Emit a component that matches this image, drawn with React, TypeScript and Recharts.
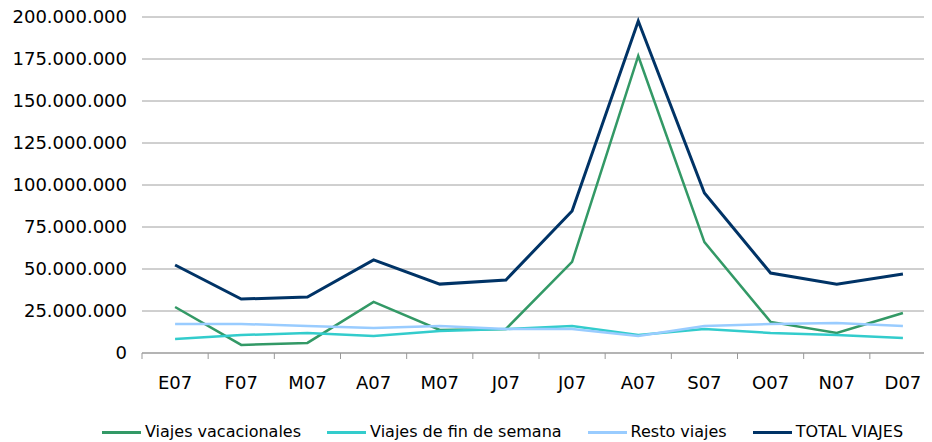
import { LineChart, Line, XAxis, YAxis, CartesianGrid, Legend } from 'recharts';

const months = ['E07', 'F07', 'M07', 'A07', 'M07', 'J07', 'J07', 'A07', 'S07', 'O07', 'N07', 'D07'];
const vacacionales = [27.4, 4.8, 6.0, 30.4, 13.7, 14.3, 54.2, 176.8, 66.0, 18.5, 11.9, 23.8];
const finDeSemana = [8.3, 10.7, 11.9, 10.1, 13.1, 14.3, 16.0, 10.7, 14.3, 11.9, 10.7, 8.9];
const resto = [17.3, 17.3, 16.0, 14.9, 16.0, 14.3, 14.3, 10.1, 16.0, 17.3, 17.9, 16.0];
const total = [52.4, 32.1, 33.3, 55.4, 41.0, 43.5, 84.5, 197.6, 95.2, 47.6, 41.0, 47.0];
const yTicks = [0, 25, 50, 75, 100, 125, 150, 175, 200].map((v) => v * 1000000);

const series = [
  { key: 'vac', name: 'Viajes vacacionales', color: '#339966', width: 2.5, values: vacacionales },
  { key: 'fin', name: 'Viajes de fin de semana', color: '#33cccc', width: 2.5, values: finDeSemana },
  { key: 'resto', name: 'Resto viajes', color: '#99ccff', width: 2.5, values: resto },
  { key: 'total', name: 'TOTAL VIAJES', color: '#003366', width: 3, values: total },
];

const data = months.map((m, i) => {
  const row: Record<string, string | number> = { id: i, month: m };
  series.forEach((s) => {
    row[s.key] = Math.round(s.values[i] * 1000000);
  });
  return row;
});

const FONT = 'Verdana, "DejaVu Sans", sans-serif';
const CHART_W = 950;
const AXIS_W = 134;
const MARGIN_R = 22;
const BAND = (CHART_W - AXIS_W - MARGIN_R) / months.length;

const fmt = (v: number) => String(Math.round(v)).replace(/\B(?=(\d{3})+(?!\d))/g, '.');

function MonthTick(props: any) {
  const { x, y, payload } = props;
  return (
    <g>
      <line x1={x - BAND / 2} x2={x - BAND / 2} y1={y} y2={y + 6} stroke="#999" />
      <text x={x} y={y + 36} textAnchor="middle" fontSize={18} fill="#000" fontFamily={FONT}>
        {months[payload.value]}
      </text>
    </g>
  );
}

function LegendBox() {
  return (
    <div
      style={{
        height: 34,
        paddingTop: 14,
        boxSizing: 'border-box',
        paddingLeft: 94,
        display: 'flex',
        alignItems: 'center',
        fontFamily: FONT,
        fontSize: 16,
        lineHeight: '18px',
        color: '#000',
      }}
    >
      {series.map((s) => (
        <div key={s.key} style={{ display: 'flex', alignItems: 'center', marginRight: 26 }}>
          <div style={{ width: 39, height: 3, background: s.color, marginRight: 4 }} />
          <span style={{ whiteSpace: 'nowrap' }}>{s.name}</span>
        </div>
      ))}
    </div>
  );
}

export default function App() {
  return (
    <div style={{ width: 924, height: 442, marginTop: -8, overflow: 'hidden', background: '#fff' }}>
      <LineChart width={CHART_W} height={442} data={data} margin={{ top: 17, right: MARGIN_R, bottom: 0, left: 0 }}>
        <CartesianGrid horizontal vertical={false} stroke="#a0a0a0" />
        <XAxis
          dataKey="id"
          type="category"
          padding={{ left: BAND / 2, right: BAND / 2 }}
          height={55}
          stroke="#999"
          tickLine={false}
          tickSize={0}
          tickMargin={0}
          interval={0}
          tick={<MonthTick />}
        />
        <YAxis
          width={AXIS_W}
          domain={[0, 200000000]}
          ticks={yTicks}
          interval={0}
          axisLine={false}
          tickLine={false}
          tickMargin={9}
          tickFormatter={fmt}
          tick={{ fontSize: 18, fill: '#000', fontFamily: FONT }}
        />
        <Legend verticalAlign="bottom" content={<LegendBox />} wrapperStyle={{ left: 0, width: CHART_W }} />
        {series.map((s) => (
          <Line
            key={s.key}
            dataKey={s.key}
            name={s.name}
            stroke={s.color}
            strokeWidth={s.width}
            dot={false}
            activeDot={false}
            type="linear"
            isAnimationActive={false}
          />
        ))}
      </LineChart>
    </div>
  );
}
